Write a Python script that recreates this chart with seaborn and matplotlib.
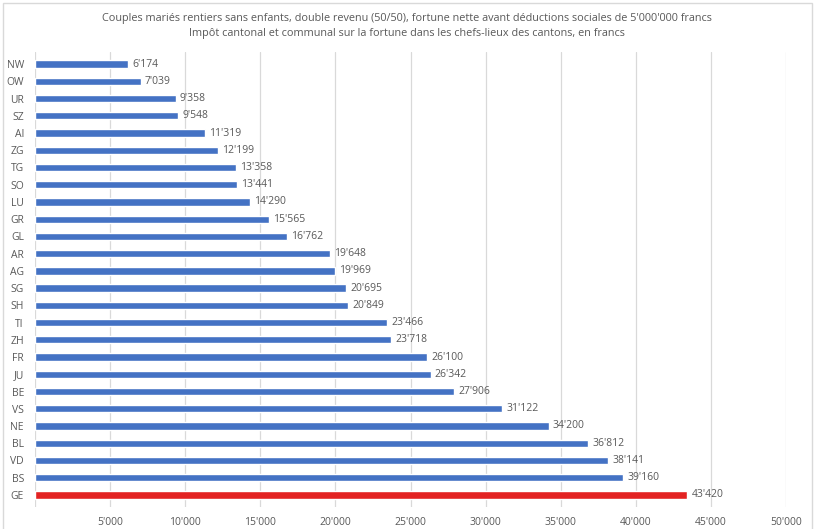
import matplotlib
matplotlib.use("Agg")
import matplotlib.pyplot as plt
import seaborn as sns
import pandas as pd
from matplotlib.patches import Rectangle
from matplotlib.ticker import FuncFormatter

cantons = ["NW", "OW", "UR", "SZ", "AI", "ZG", "TG", "SO", "LU", "GR", "GL", "AR", "AG",
           "SG", "SH", "TI", "ZH", "FR", "JU", "BE", "VS", "NE", "BL", "VD", "BS", "GE"]
values = [6174, 7039, 9358, 9548, 11319, 12199, 13358, 13441, 14290, 15565, 16762, 19648, 19969,
          20695, 20849, 23466, 23718, 26100, 26342, 27906, 31122, 34200, 36812, 38141, 39160, 43420]
highlight = "GE"
xticks = [5000, 10000, 15000, 20000, 25000, 30000, 35000, 40000, 45000, 50000]
title = ("Couples mariés rentiers sans enfants, double revenu (50/50), fortune nette avant déductions sociales de 5'000'000 francs\n"
         "Impôt cantonal et communal sur la fortune dans les chefs-lieux des cantons, en francs")

sns.set_theme(style="white")
plt.rcParams["font.family"] = ["Open Sans", "DejaVu Sans"]

def fmt(v):
    return f"{int(v):,}".replace(",", "'")

df = pd.DataFrame({"canton": cantons, "value": values})
blue = "#4472C4"
red = "#E32322"
palette = {c: (red if c == highlight else blue) for c in cantons}

fig = plt.figure(figsize=(8.14, 5.29), dpi=100)
ax = fig.add_axes([35 / 814, 1 - 507 / 529, (786 - 35) / 814, (507 - 52) / 529])

sns.barplot(data=df, x="value", y="canton", hue="canton", palette=palette, order=cantons,
            orient="h", width=0.42, legend=False, ax=ax, saturation=1)

ax.set_xlim(0, 50000)
ax.set_ylim(25.7, -0.7)
ax.set_xticks([0] + xticks)
ax.xaxis.set_major_formatter(FuncFormatter(lambda v, p: "" if v == 0 else fmt(v)))
ax.grid(axis="x", color="#D9D9D9", linewidth=0.9)
ax.set_axisbelow(True)
for s in ax.spines.values():
    s.set_visible(False)
ax.set_xlabel("")
ax.set_ylabel("")
ax.tick_params(axis="both", length=0, labelsize=7.5, colors="#595959")
ax.tick_params(axis="y", pad=8)
ax.tick_params(axis="x", pad=7)

for i, v in enumerate(values):
    ax.annotate(fmt(v), (v, i), xytext=(3, 0), textcoords="offset points",
                va="center", ha="left", fontsize=7.5, color="#595959")

fig.text(0.5, 1 - 26 / 529, title, ha="center", va="center", fontsize=7.8,
         color="#595959", linespacing=1.6)

fig.patches.append(Rectangle((3 / 814, -0.01), (812 - 3) / 814, 1 - 3 / 529 + 0.01,
                             transform=fig.transFigure, fill=False, edgecolor="#D9D9D9",
                             linewidth=1))

fig.savefig("out.png", dpi=100)
